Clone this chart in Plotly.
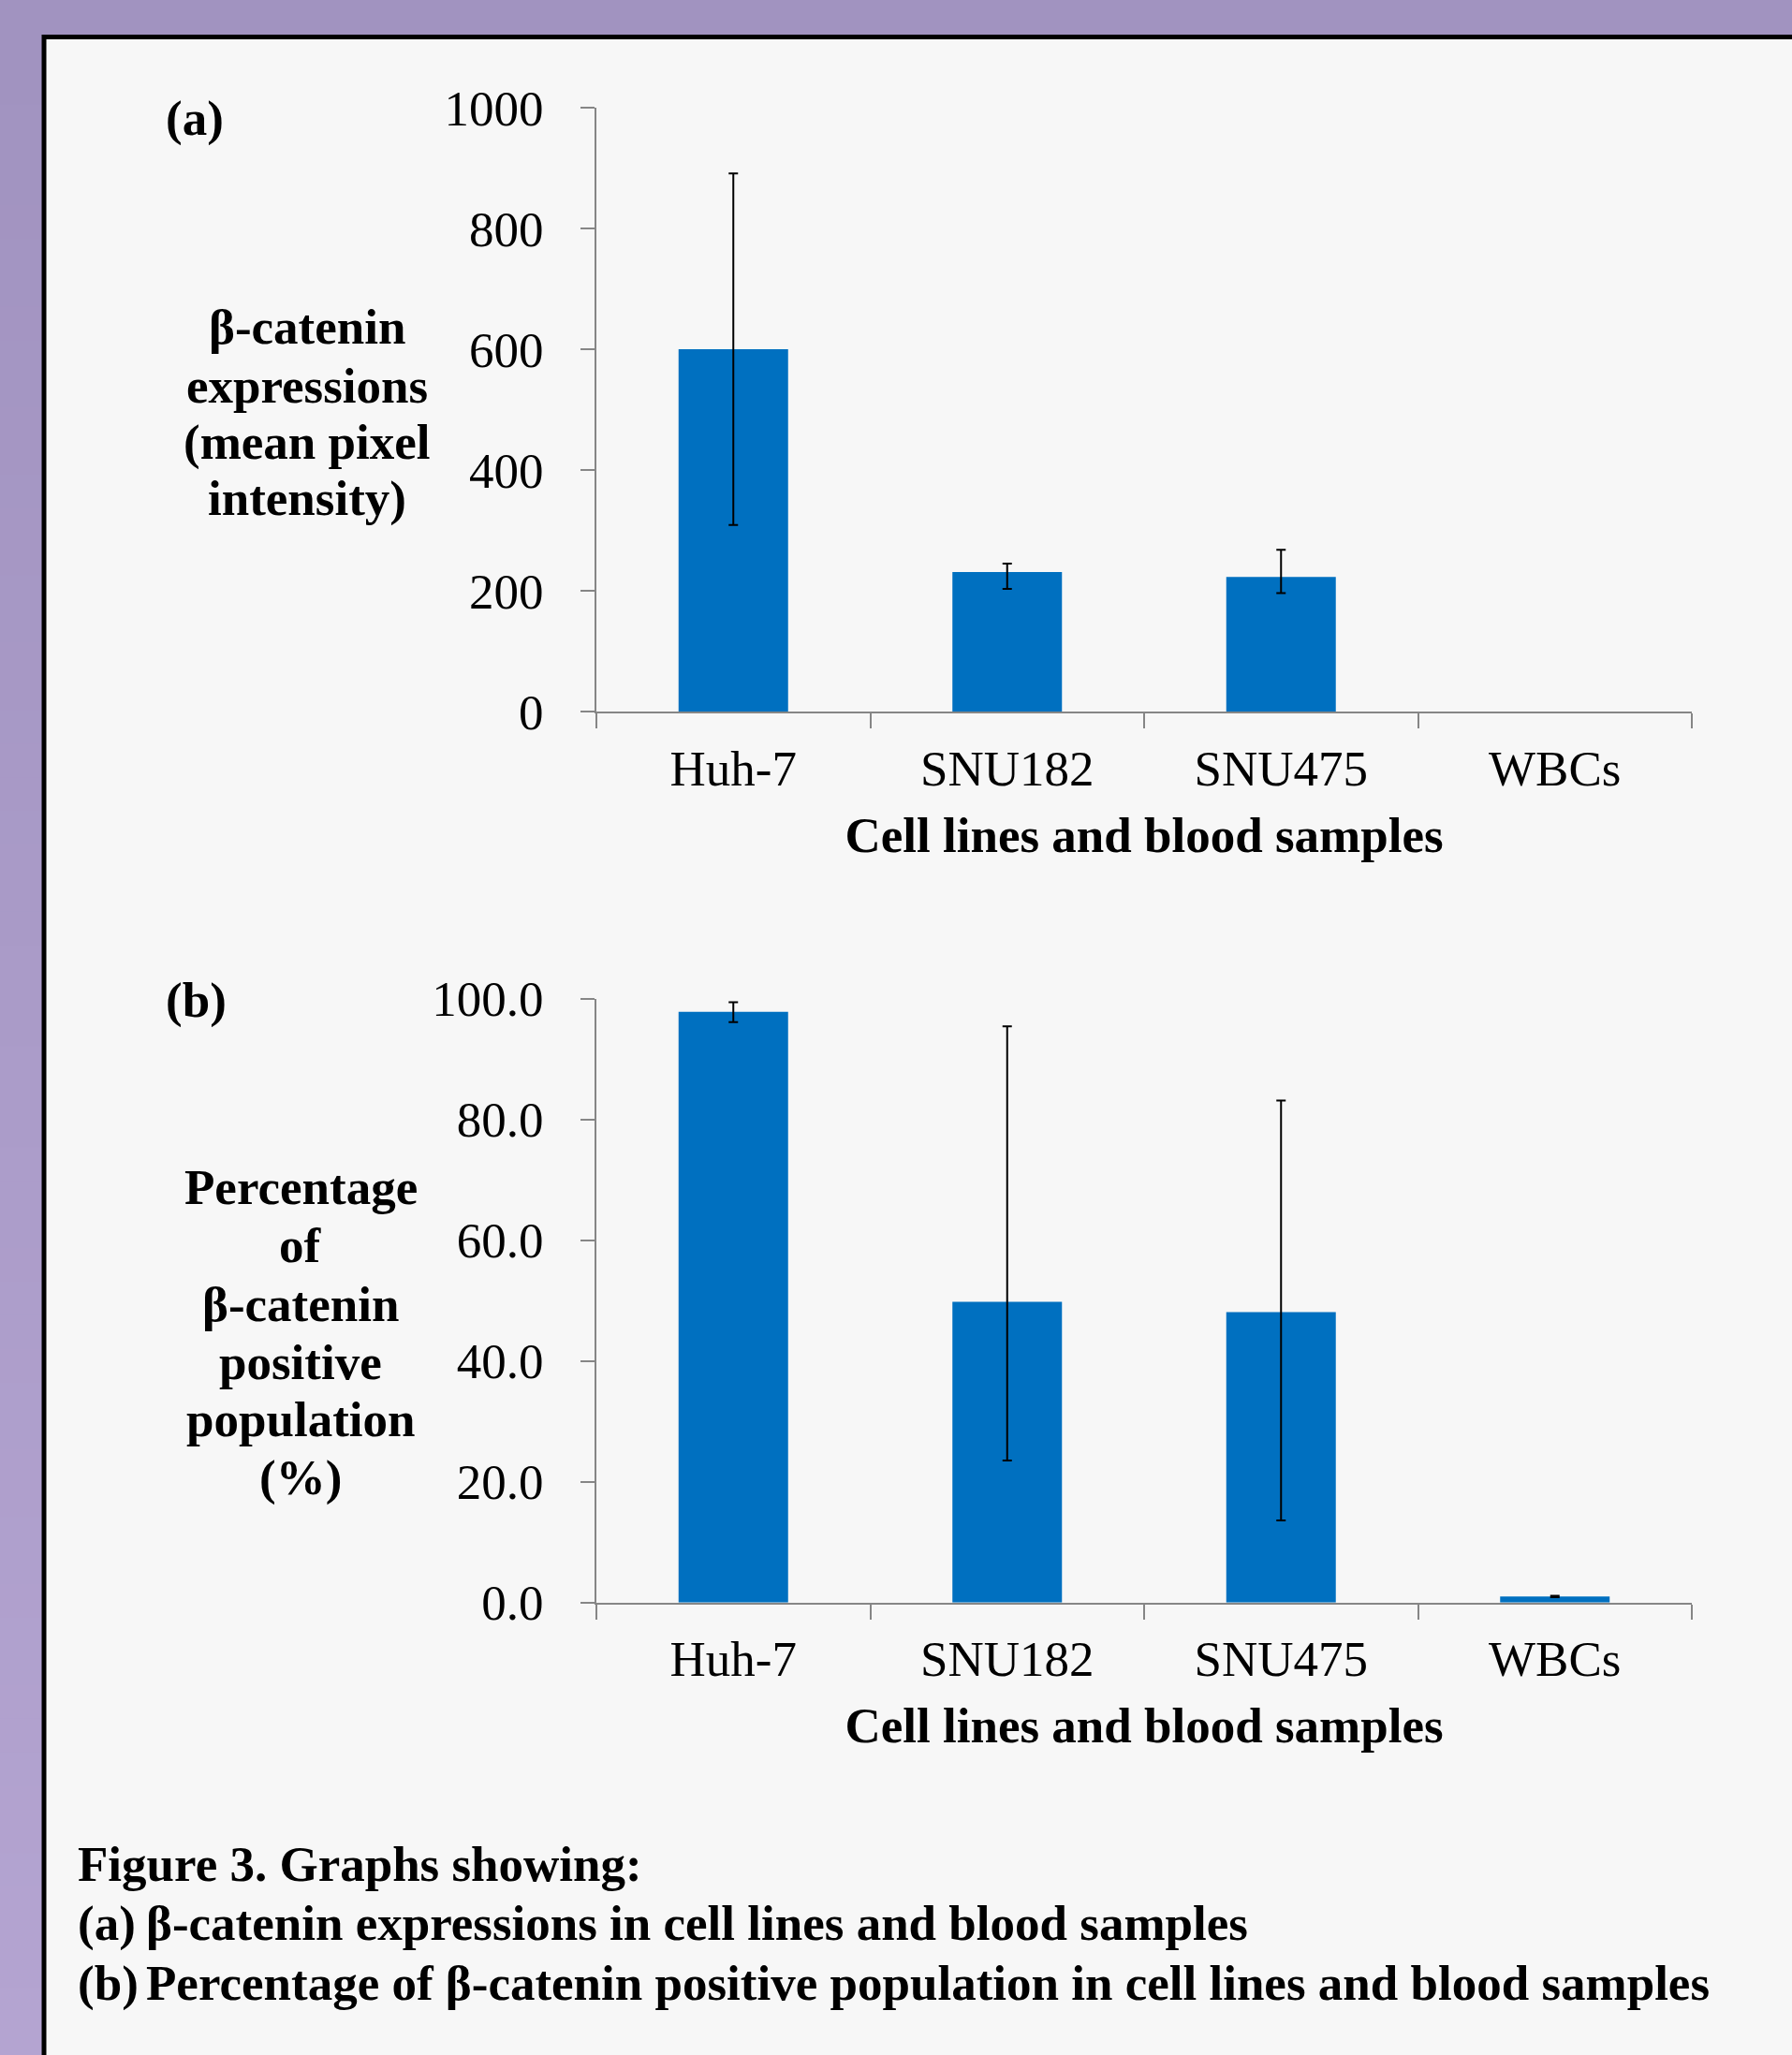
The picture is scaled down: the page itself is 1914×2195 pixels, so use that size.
import plotly.graph_objects as go

W, H = 1914, 2195

# ---------------- data ----------------
categories = ["Huh-7", "SNU182", "SNU475", "WBCs"]

expr_mean = [600, 231, 223, None]
expr_err_plus = [291, 14, 45, None]
expr_err_minus = [291, 28, 27, None]

pct_mean = [97.8, 49.8, 48.1, 1.0]
pct_err_plus = [1.6, 45.6, 35.0, 0.1]
pct_err_minus = [1.7, 26.3, 34.5, 0.1]

expr_ticks = [0, 200, 400, 600, 800, 1000]
pct_ticks = [0, 20, 40, 60, 80, 100]

ytitle_a = ["β-catenin", "expressions", "(mean pixel", "intensity)"]
ytitle_b = ["Percentage", "of", "β-catenin", "positive", "population", "(%)"]
xtitle = "Cell lines and blood samples"
caption_head = "Figure 3. Graphs showing:"
caption_items = [("(a)", "β-catenin expressions in cell lines and blood samples"),
                 ("(b)", "Percentage of β-catenin positive population in cell lines and blood samples")]

# ---------------- helpers ----------------
FONT = "Liberation Serif, Times New Roman, serif"
FS = 53
BAR = "#0070C0"
AX = "#868686"


def px(x):
    return x / W


def py(y):
    return 1 - y / H


fig = go.Figure()

err_style = dict(type="data", symmetric=False, color="black", thickness=2, width=5)

fig.add_trace(go.Bar(
    x=categories, y=expr_mean, marker=dict(color=BAR, line=dict(width=0)),
    error_y=dict(array=expr_err_plus, arrayminus=expr_err_minus, **err_style),
    xaxis="x", yaxis="y", showlegend=False))

fig.add_trace(go.Bar(
    x=categories, y=pct_mean, marker=dict(color=BAR, line=dict(width=0)),
    error_y=dict(array=pct_err_plus, arrayminus=pct_err_minus, **err_style),
    xaxis="x2", yaxis="y2", showlegend=False))

xcommon = dict(type="category", categoryorder="array", categoryarray=categories,
               range=[-0.5, 3.5], showline=True, linecolor=AX, linewidth=2,
               ticks="outside", tickson="boundaries", ticklen=16, tickwidth=2, tickcolor=AX,
               tickfont=dict(family=FONT, size=FS, color="black"),
               ticklabelstandoff=13,
               showgrid=False, zeroline=False, fixedrange=True,
               title=dict(text="<b>" + xtitle + "</b>", font=dict(family=FONT, size=FS, color="black"),
                          standoff=24))
ycommon = dict(showline=True, linecolor=AX, linewidth=2, ticks="outside", ticklen=15,
               tickwidth=2, tickcolor=AX, tickfont=dict(family=FONT, size=FS, color="black"),
               ticklabelstandoff=29, showgrid=False, zeroline=False, fixedrange=True)

dom_x = [px(637), px(1807)]

fig.update_layout(
    width=W, height=H, margin=dict(l=0, r=0, t=0, b=0, autoexpand=False),
    paper_bgcolor="#A193C0", plot_bgcolor="rgba(0,0,0,0)",
    bargap=0.6, showlegend=False,
    xaxis=dict(domain=dom_x, anchor="y", **xcommon),
    yaxis=dict(domain=[py(760), py(115)], anchor="x", range=[0, 1000],
               tickvals=expr_ticks, **ycommon),
    xaxis2=dict(domain=dom_x, anchor="y2", **xcommon),
    yaxis2=dict(domain=[py(1711.7), py(1066.6)], anchor="x2", range=[0, 100],
                tickvals=pct_ticks, tickformat=".1f", **ycommon),
)

# ---------------- background decoration ----------------
shapes = []
c_top = (0xA1, 0x93, 0xC0)
c_bot = (0xB4, 0xA4, 0xD1)
n = 60
for i in range(n):
    t = i / (n - 1)
    c = tuple(round(a + (b - a) * t) for a, b in zip(c_top, c_bot))
    ya = 40 + (H - 40) * i / n
    yb = 40 + (H - 40) * (i + 1) / n + 1
    shapes.append(dict(type="rect", xref="paper", yref="paper", layer="below",
                       x0=0, x1=px(47), y0=py(yb), y1=py(ya),
                       fillcolor="rgb(%d,%d,%d)" % c, line=dict(width=0)))
shapes.append(dict(type="rect", xref="paper", yref="paper", layer="below",
                   x0=px(47), x1=px(1940), y0=py(2230), y1=py(39.5),
                   fillcolor="#F7F7F7", line=dict(color="black", width=5)))
fig.update_layout(shapes=shapes)

# ---------------- text ----------------
ann = []


def txt(text, x, y, xanchor="center", bold=True, size=FS):
    ann.append(dict(text=("<b>%s</b>" % text) if bold else text, x=px(x), y=py(y),
                    xref="paper", yref="paper", xanchor=xanchor, yanchor="middle",
                    showarrow=False, font=dict(family=FONT, size=size, color="black")))


txt("(a)", 175, 127, "left")
txt("(b)", 175, 1068, "left")

for line, yy in zip(ytitle_a, [349, 412, 473, 533]):
    txt(line, 328, yy)
for line, yy in zip(ytitle_b, [1268, 1330, 1393, 1455, 1516, 1578]):
    txt(line, 321, yy)

txt(caption_head, 81, 1991, "left")
for (lab, body), yy in zip(caption_items, [2054, 2118]):
    txt(lab, 81, yy, "left")
    txt(body, 154, yy, "left")

fig.update_layout(annotations=ann)

fig.write_html("out.html", config={"displayModeBar": False},
               post_script="document.body.style.margin='0';document.body.style.overflow='hidden';")
